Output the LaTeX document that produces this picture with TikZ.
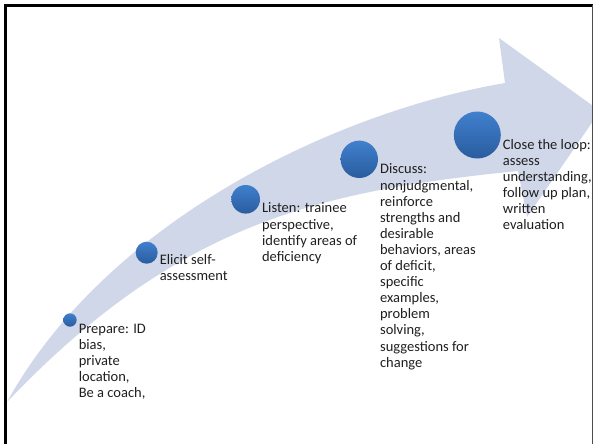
\documentclass[tikz,border=0pt]{standalone}
\usepackage{fontspec}
\setmainfont{Carlito}
\usepackage{tikz}
\usetikzlibrary{calc, positioning}
\usepackage{xcolor}
\definecolor{bandfill}{RGB}{208,215,232}
\definecolor{dottop}{RGB}{64,128,206}
\definecolor{dotbottom}{RGB}{42,92,158}

\begin{document}
\begin{tikzpicture}[x=1pt, y=-1pt,
        % Define a style for the step markers and for their notes
        dot/.style={circle, inner sep=0pt, top color=dottop, bottom color=dotbottom},
        note/.style={anchor=north west, inner sep=0pt, align=left, text=black!88,
            font=\fontsize{14.5}{16.1}\selectfont}]

        \useasboundingbox (0,0) rectangle (594,444);

        % 1. Corner points of the curved arrow
        \coordinate (tail) at (7,402);
        \coordinate (notchtop) at (505,83);
        \coordinate (headtop) at (499,38);
        \coordinate (tip) at (600,111);
        \coordinate (headbot) at (527,217);
        \coordinate (notchbot) at (518,171);

        % 2. Draw the arrow (the tip runs under the frame)
        \begin{scope}
            \clip (5,0) rectangle (592,444);
            \fill[bandfill] (tail) .. controls (107,221) and (335,112) .. (notchtop)
                -- (headtop) -- (tip) -- (headbot) -- (notchbot)
                .. controls (318,191) and (177,223.5) .. (tail) -- cycle;
        \end{scope}

        % 3. Frame
        \draw[line width=3pt] (5.5,444) -- (5.5,5.5) -- (592.5,5.5);
        \draw[black!70, line width=1.2pt] (592.5,5.5) -- (592.5,444);

        % 4. Step markers, growing along the arrow
        \node[dot, minimum size=13.4pt] (prepare) at (70,320) {};
        \node[dot, minimum size=22pt] (elicit) at (146.7,252.7) {};
        \node[dot, minimum size=28.6pt] (listen) at (245.7,199.3) {};
        \node[dot, minimum size=37.4pt] (discuss) at (359.3,159.3) {};
        \node[dot, minimum size=47pt] (close) at (477.3,135) {};

        % 5. Notes next to each marker
        \node[note] (prepare-txt) at ([shift={(1.7,3.5)}]prepare.east)
            {Prepare: ID\\bias,\\private\\location,\\Be a coach,};
        \node[note] (elicit-txt) at ([shift={(1.7,1.5)}]elicit.east)
            {Elicit self-\\assessment};
        \node[note] (listen-txt) at ([shift={(1.7,3.5)}]listen.east)
            {Listen: trainee\\perspective,\\identify areas of\\deficiency};
        \node[note] (discuss-txt) at ([shift={(1.7,4.5)}]discuss.east)
            {Discuss:\\nonjudgmental,\\reinforce\\strengths and\\desirable\\behaviors, areas\\of deficit,\\specific\\examples,\\problem\\solving,\\suggestions for\\change};
        \node[note] (close-txt) at ([shift={(1.7,4)}]close.east)
            {Close the loop:\\assess\\understanding,\\follow up plan,\\written\\evaluation};

    \end{tikzpicture}
\end{document}
